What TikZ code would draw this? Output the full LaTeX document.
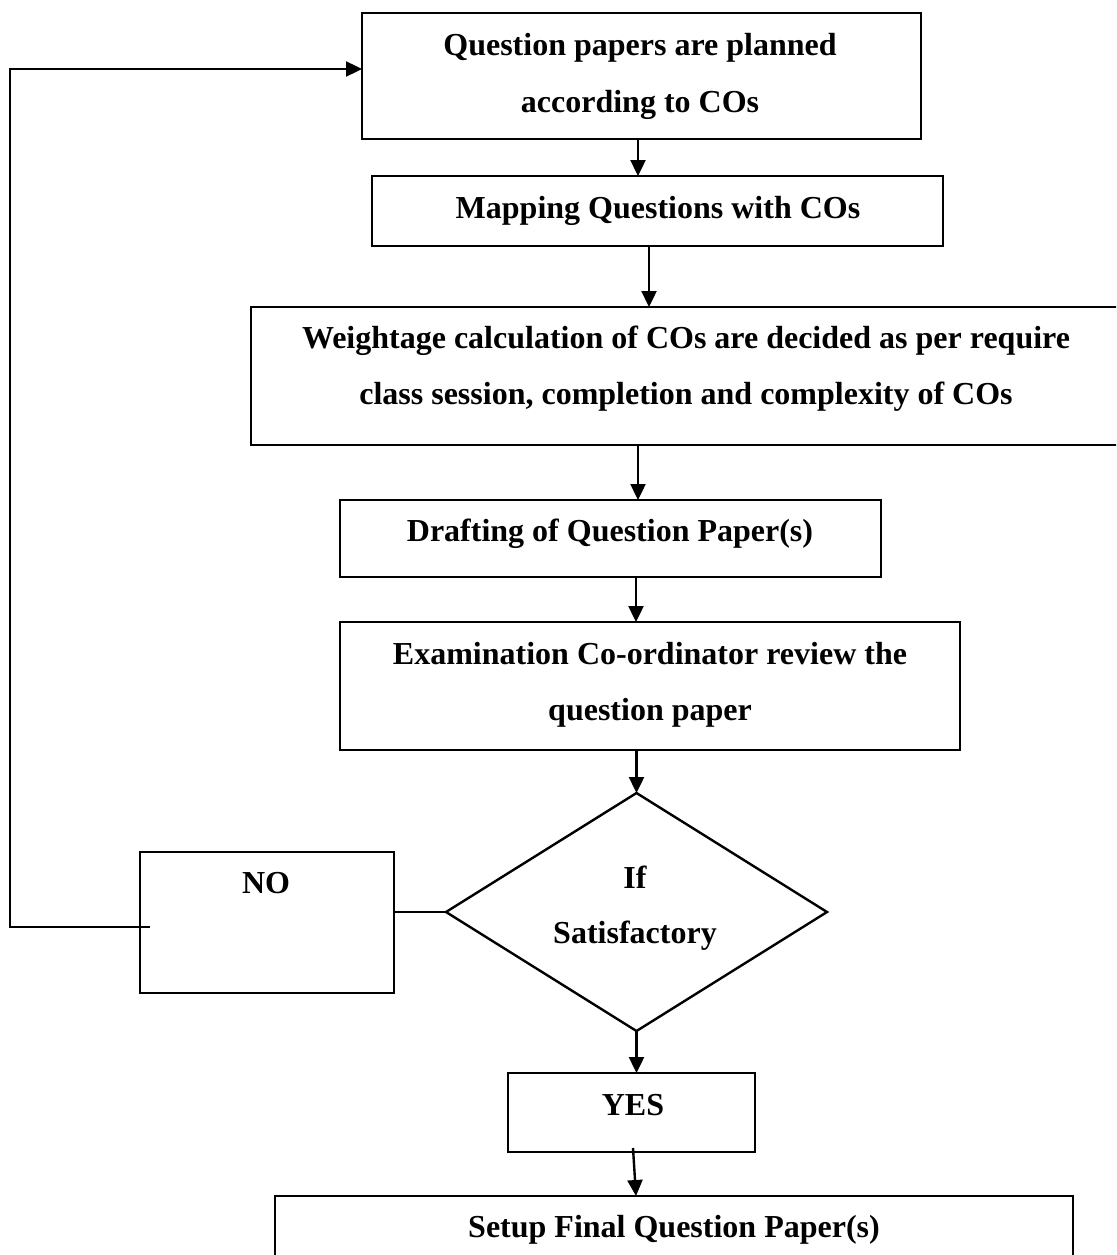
\documentclass[tikz,border=0pt]{standalone}
\usepackage{fontspec}
\setmainfont{Liberation Serif}
\usetikzlibrary{arrows.meta,shapes.geometric}

\begin{document}
\begin{tikzpicture}[x=1pt,y=-1pt,
  box/.style={draw,line width=2.4pt,rectangle,inner sep=0pt,outer sep=0pt},
  txt/.style={anchor=base,inner sep=0pt,font=\fontsize{32}{40}\selectfont\bfseries},
  arr/.style={line width=2.4pt,-{Triangle[length=16pt,width=15pt]}},
  link/.style={line width=2.4pt}]
\useasboundingbox (0,0) rectangle (1116,1255);
\clip (0,0) rectangle (1116,1255);
\fill[white] (0,0) rectangle (1116,1255);

% process boxes
\node[box,minimum width=559pt,minimum height=126pt] (b1) at (641.5,76) {};
\node[box,minimum width=571pt,minimum height=70pt]  (b2) at (657.5,211) {};
\node[box,minimum width=870pt,minimum height=138pt] (b3) at (686,376) {};
\node[box,minimum width=541pt,minimum height=77pt]  (b4) at (610.5,538.5) {};
\node[box,minimum width=620pt,minimum height=128pt] (b5) at (650,686) {};
\node[draw,line width=2.4pt,diamond,inner sep=0pt,outer sep=0pt,
      minimum width=381pt,minimum height=238pt] (dec) at (636.5,912) {};
\node[box,minimum width=254pt,minimum height=141pt] (no)  at (267,922.5) {};
\node[box,minimum width=247pt,minimum height=79pt]  (yes) at (631.5,1112.5) {};
\node[box,minimum width=798pt,minimum height=120pt] (fin) at (674,1256) {};

% labels
\node[txt] (t1a) at (640,56)  {Question papers are planned};
\node[txt] (t1b) at (640,112) {according to COs};
\node[txt] (t2)  at (658,218) {Mapping Questions with COs};
\node[txt] (t3a) at (686,348) {Weightage calculation of COs are decided as per require};
\node[txt] (t3b) at (686,404) {class session, completion and complexity of COs};
\node[txt] (t4)  at (610,541) {Drafting of Question Paper(s)};
\node[txt] (t5a) at (650,664) {Examination Co-ordinator review the};
\node[txt] (t5b) at (650,720) {question paper};
\node[txt] (tda) at (635,888) {If};
\node[txt] (tdb) at (635,943) {Satisfactory};
\node[txt] (tno) at (266,893) {NO};
\node[txt] (tys) at (633,1115) {YES};
\node[txt] (tfn) at (674,1237) {Setup Final Question Paper(s)};

% columns of the down arrows
\coordinate (xa) at (638,0);
\coordinate (xb) at (649,0);
\coordinate (xc) at (636,0);

\draw[arr] (b1.south -| xa) -- (b2.north -| xa);
\draw[arr] (b2.south -| xb) -- (b3.north -| xb);
\draw[arr] (b3.south -| xa) -- (b4.north -| xa);
\draw[arr] (b4.south -| xc) -- (b5.north -| xc);
\draw[arr] (b5.south -| dec.north) -- (dec.north);
\draw[arr] (dec.south) -- (yes.north -| dec.south);
\coordinate (ystart) at (633,1148);
\draw[arr] (ystart) -- (fin.north -| xc);

% NO branch back to the top
\draw[link] (dec.west) -- (no.east |- dec.west);
\coordinate (nostart) at (150,927);
\coordinate (corner) at (10,927);
\coordinate (b1in) at (362,69);
\draw[arr] (nostart) -- (corner) |- (b1in);
\end{tikzpicture}
\end{document}
